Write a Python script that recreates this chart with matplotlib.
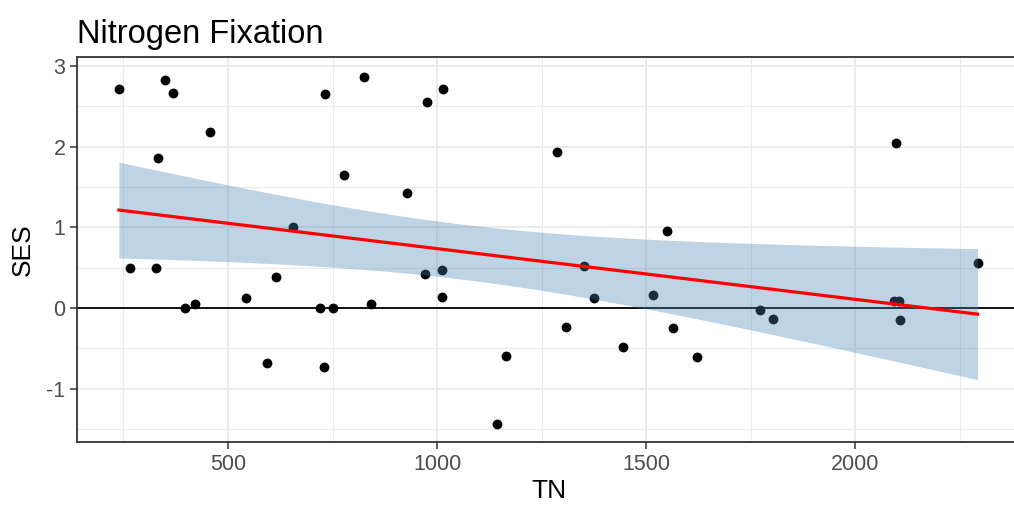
import numpy as np
import matplotlib
matplotlib.use("Agg")
import matplotlib.pyplot as plt

plt.rcParams['font.family'] = ['Liberation Sans', 'DejaVu Sans']
plt.rcParams['axes.unicode_minus'] = False

# points
tn = [239, 265, 328, 332, 349, 368, 398, 421, 456, 544,
      593, 615, 655, 720, 729, 733, 751, 778, 825, 841,
      928, 972, 977, 1011, 1015, 1011, 1144, 1166, 1286, 1308,
      1351, 1375, 1445, 1516, 1551, 1564, 1623, 1772, 1803, 2099,
      2092, 2104, 2107, 2293]
ses = [2.71, 0.49, 0.49, 1.86, 2.82, 2.66, 0.00, 0.05, 2.18, 0.12,
       -0.68, 0.38, 1.00, 0.00, -0.73, 2.65, 0.00, 1.65, 2.86, 0.05,
       1.43, 0.42, 2.55, 0.47, 2.71, 0.14, -1.44, -0.59, 1.93, -0.23,
       0.52, 0.12, -0.48, 0.16, 0.95, -0.25, -0.61, -0.02, -0.13, 2.04,
       0.09, 0.09, -0.15, 0.56]

x = np.array(tn, dtype=float)
y = np.array(ses, dtype=float)

# lm fit + 95% confidence band (like geom_smooth(method="lm"))
n = len(x)
b1, b0 = np.polyfit(x, y, 1)
resid = y - (b0 + b1 * x)
s = np.sqrt(np.sum(resid ** 2) / (n - 2))
xm = x.mean()
sxx = np.sum((x - xm) ** 2)
tval = 2.018  # t(0.975, df=42)
xx = np.linspace(x.min(), x.max(), 100)
yy = b0 + b1 * xx
se = s * np.sqrt(1.0 / n + (xx - xm) ** 2 / sxx)

fig = plt.figure(figsize=(10.14, 5.14), dpi=100)
ax = fig.add_axes([77.3 / 1014, 1 - 441.7 / 514, (1020 - 77.3) / 1014, (441.7 - 57.3) / 514])

ax.set_xlim(139.5, 2394.5)
ax.set_ylim(-1.655, 3.105)

grid_c = '#ebebeb'
for v in [250, 750, 1250, 1750, 2250]:
    ax.axvline(v, color=grid_c, lw=0.8, zorder=0)
for v in [-1.5, -0.5, 0.5, 1.5, 2.5]:
    ax.axhline(v, color=grid_c, lw=0.8, zorder=0)
for v in [500, 1000, 1500, 2000]:
    ax.axvline(v, color=grid_c, lw=1.4, zorder=0)
for v in [-1, 0, 1, 2, 3]:
    ax.axhline(v, color=grid_c, lw=1.4, zorder=0)

ax.axhline(0, color='black', lw=1.3, zorder=1)
ax.scatter(x, y, s=50, color='black', linewidths=0, zorder=2)
ax.fill_between(xx, yy - tval * se, yy + tval * se, color='#4682b4', alpha=0.35,
                linewidth=0, zorder=3)
ax.plot(xx, yy, color='red', lw=2.3, zorder=4)

ax.set_xticks([500, 1000, 1500, 2000])
ax.set_yticks([-1, 0, 1, 2, 3])
ax.tick_params(axis='both', colors='#333333', labelcolor='#4d4d4d', labelsize=15.5,
               length=5, width=1.1)
for sp in ax.spines.values():
    sp.set_color('#333333')
    sp.set_linewidth(1.3)

ax.set_xlabel('TN', fontsize=19, color='black', labelpad=3)
ax.set_ylabel('SES', fontsize=19, color='black', labelpad=8)
ax.set_title('Nitrogen Fixation', fontsize=23.5, loc='left', pad=10)

fig.savefig('out.png', dpi=100)
